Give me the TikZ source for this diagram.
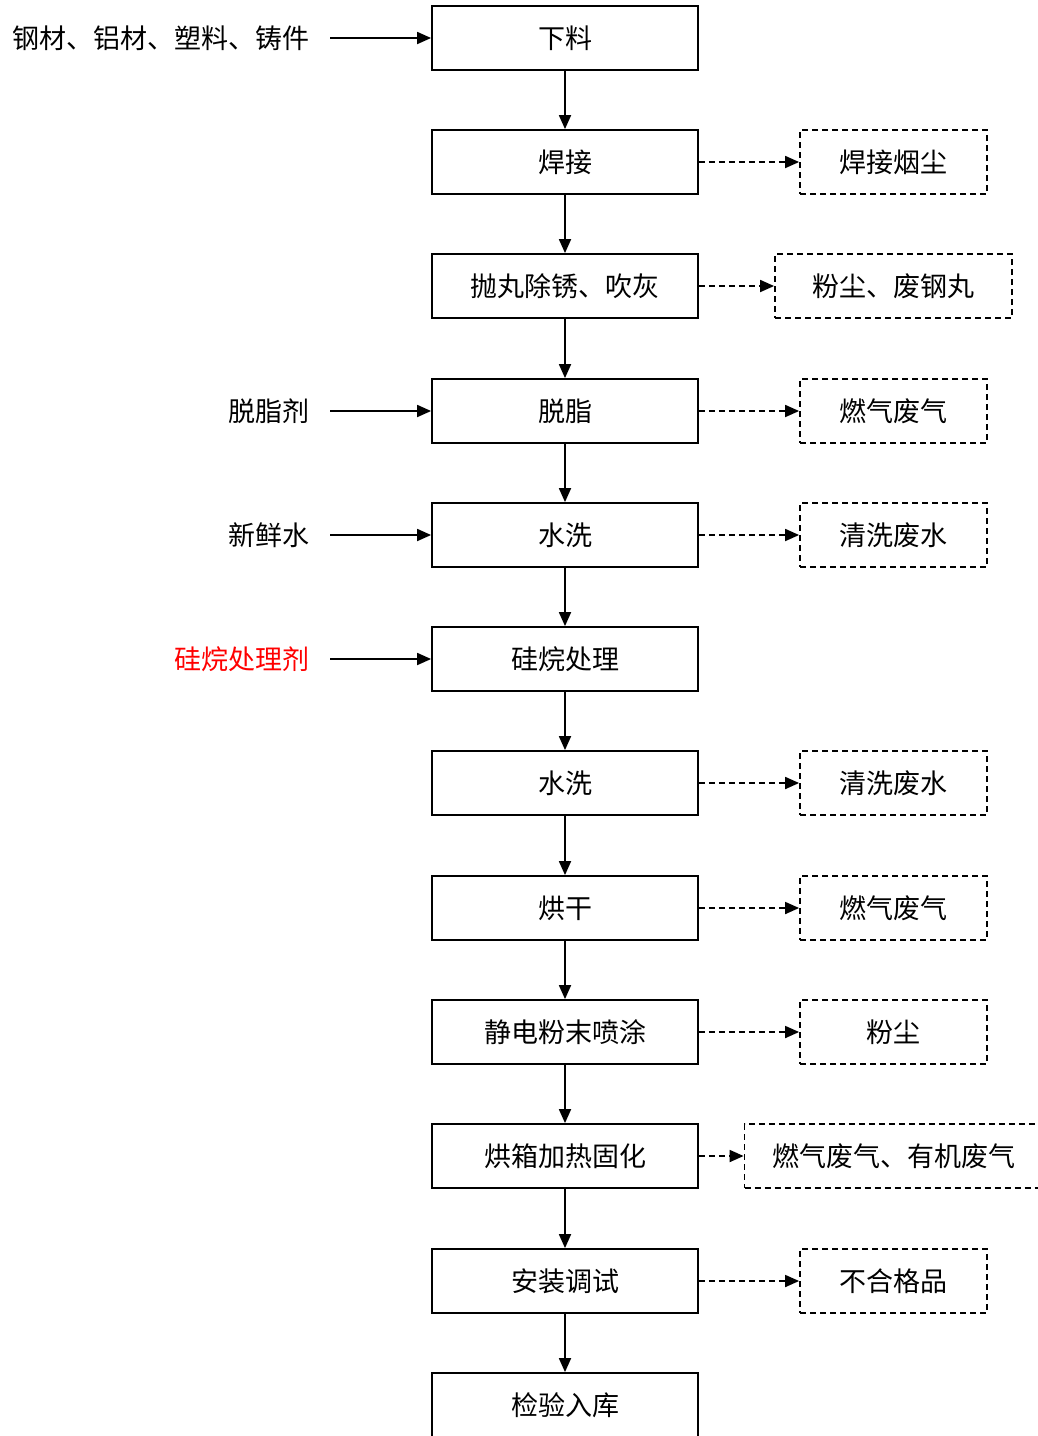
\documentclass[tikz,border=0pt]{standalone}
\usepackage{fontspec}
\setmainfont{Noto Sans CJK SC}
\usetikzlibrary{arrows.meta}
\begin{document}
\begin{tikzpicture}[x=1pt,y=-1pt,
  every node/.style={font=\fontsize{27}{32}\selectfont},
  mainbox/.style={draw,line width=1.8pt,minimum width=266pt,minimum height=64pt,inner sep=0pt},
  outbox/.style={draw,dash pattern=on 6pt off 4pt,line width=1.8pt,minimum height=64pt,inner sep=0pt},
  flow/.style={line width=1.8pt,-{Triangle[length=14pt,width=12pt]}},
  dflow/.style={flow,dash pattern=on 6pt off 4pt},
  inlabel/.style={anchor=east,inner sep=0pt}]
\clip (0,0) rectangle (1038,1436);
\fill[white] (0,0) rectangle (1038,1436);
% main boxes
\node[mainbox] (m1) at (565,38) {下料};
\node[mainbox] (m2) at (565,162) {焊接};
\node[mainbox] (m3) at (565,286) {抛丸除锈、吹灰};
\node[mainbox] (m4) at (565,411) {脱脂};
\node[mainbox] (m5) at (565,535) {水洗};
\node[mainbox] (m6) at (565,659) {硅烷处理};
\node[mainbox] (m7) at (565,783) {水洗};
\node[mainbox] (m8) at (565,908) {烘干};
\node[mainbox] (m9) at (565,1032) {静电粉末喷涂};
\node[mainbox] (m10) at (565,1156) {烘箱加热固化};
\node[mainbox] (m11) at (565,1281) {安装调试};
\node[mainbox] (m12) at (565,1405) {检验入库};
\foreach \a/\b in {m1/m2,m2/m3,m3/m4,m4/m5,m5/m6,m6/m7,m7/m8,m8/m9,m9/m10,m10/m11,m11/m12}
  \draw[flow] (\a.south) -- (\b.north);
% outputs
\node[outbox,minimum width=187pt] (o2) at (893.5,162) {焊接烟尘};
\node[outbox,minimum width=237pt] (o3) at (893.5,286) {粉尘、废钢丸};
\node[outbox,minimum width=187pt] (o4) at (893.5,411) {燃气废气};
\node[outbox,minimum width=187pt] (o5) at (893.5,535) {清洗废水};
\node[outbox,minimum width=187pt] (o7) at (893.5,783) {清洗废水};
\node[outbox,minimum width=187pt] (o8) at (893.5,908) {燃气废气};
\node[outbox,minimum width=187pt] (o9) at (893.5,1032) {粉尘};
\node[outbox,minimum width=298pt] (o10) at (893.5,1156) {燃气废气、有机废气};
\node[outbox,minimum width=187pt] (o11) at (893.5,1281) {不合格品};
\foreach \a/\b in {m2/o2,m3/o3,m4/o4,m5/o5,m7/o7,m8/o8,m9/o9,m10/o10,m11/o11}
  \draw[dflow] (\a.east) -- (\b.west);
% inputs
\node[inlabel] (i1) at (310,38) {钢材、铝材、塑料、铸件};
\node[inlabel] (i4) at (310,411) {脱脂剂};
\node[inlabel] (i5) at (310,535) {新鲜水};
\node[inlabel,text=red] (i6) at (310,659) {硅烷处理剂};
\foreach \a/\b in {i1/m1,i4/m4,i5/m5,i6/m6}
  \draw[flow] ([xshift=20pt]\a.east) -- (\b.west);
\end{tikzpicture}
\end{document}
